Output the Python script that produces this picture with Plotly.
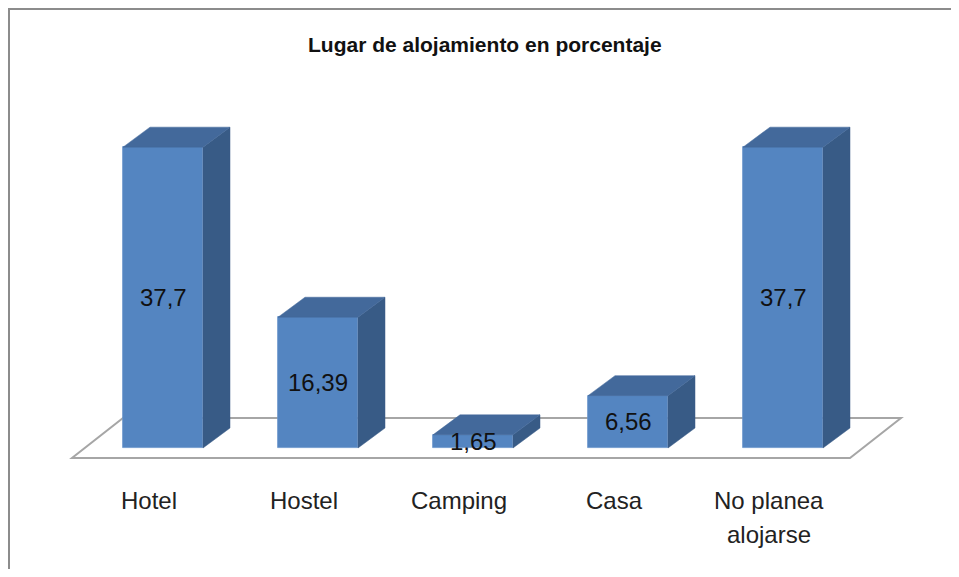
import plotly.graph_objects as go

# ---- data ----
categories = ["Hotel", "Hostel", "Camping", "Casa", "No planea\nalojarse"]
values = [37.7, 16.39, 1.65, 6.56, 37.7]
title_text = "Lugar de alojamiento en porcentaje"

# ---- geometry / style (pixel-based helpers) ----
OFF = 8                            # page body margin in the browser
W, H = 959 - 2 * OFF, 577 - 2 * OFF
x0_px, step_px = 163 - OFF, 155    # centre of first bar, spacing
base_px, px_per_unit = 448 - OFF, 7.98   # baseline pixel row, pixels per unit
bar_w = 80 / step_px
dx = 27 / step_px                  # depth offset (x units)
dy = 20 / px_per_unit              # depth offset (y units)

FRONT = "#5485C1"
TOP = "#43699B"
SIDE = "#385B86"

xr = [-x0_px / step_px, (W - x0_px) / step_px]
yr = [-(H - base_px) / px_per_unit, base_px / px_per_unit]

fig = go.Figure()

idx = list(range(len(values)))

# side and top faces (computed from the values)
for i, v in zip(idx, values):
    xl, xrt = i - bar_w / 2, i + bar_w / 2
    fig.add_trace(go.Scatter(
        x=[xrt, xrt + dx, xrt + dx, xrt, xrt],
        y=[0, dy, v + dy, v, 0],
        fill="toself", fillcolor=SIDE, mode="lines",
        line=dict(color=SIDE, width=0.5), hoverinfo="skip", showlegend=False))
    fig.add_trace(go.Scatter(
        x=[xl, xrt, xrt + dx, xl + dx, xl],
        y=[v, v, v + dy, v + dy, v],
        fill="toself", fillcolor=TOP, mode="lines",
        line=dict(color=TOP, width=0.5), hoverinfo="skip", showlegend=False))

# front faces
fig.add_trace(go.Bar(
    x=idx, y=values, width=bar_w,
    marker=dict(color=FRONT, line=dict(color="#6A96CC", width=0.8)),
    hoverinfo="skip", showlegend=False))

# value labels
for i, v in zip(idx, values):
    fig.add_annotation(
        x=i, y=v / 2, text=f"{v:g}".replace(".", ","), showarrow=False,
        font=dict(family="Liberation Sans", size=24, color="#111"),
        xanchor="center", yanchor="middle")

# category labels (along the front edge of the floor)
lab_shift = 14 / step_px
lab_y0 = (448 - 500) / px_per_unit
line_gap = 34 / px_per_unit
for i, c in zip(idx, categories):
    for k, line in enumerate(c.split("\n")):
        fig.add_annotation(
            x=i - lab_shift, y=lab_y0 - k * line_gap, text=line, showarrow=False,
            font=dict(family="Liberation Sans", size=24, color="#222"),
            xanchor="center", yanchor="middle")

# floor (parallelogram)
n = len(values)
fl_front_y = -10 / px_per_unit
fl_back_y = 30 / px_per_unit
fl_left = -91 / step_px
fl_right = (n - 1) + 67 / step_px
fl_dx = 51 / step_px
floor_path = (f"M {fl_left},{fl_front_y} L {fl_right},{fl_front_y} "
              f"L {fl_right + fl_dx},{fl_back_y} L {fl_left + fl_dx},{fl_back_y} Z")

fig.update_layout(
    width=W, height=H,
    margin=dict(l=0, r=0, t=0, b=0),
    paper_bgcolor="white", plot_bgcolor="white",
    xaxis=dict(range=xr, visible=False, fixedrange=True),
    yaxis=dict(range=yr, visible=False, fixedrange=True),
    bargap=0,
    shapes=[
        dict(type="path", path=floor_path, xref="x", yref="y", layer="below",
             line=dict(color="#A6A6A6", width=2), fillcolor="white"),
        dict(type="rect", xref="paper", yref="paper",
             x0=1 / W, x1=1.05, y0=-0.05, y1=1 - 1 / H,
             line=dict(color="#8C8C8C", width=2)),
    ],
    annotations=list(fig.layout.annotations) + [
        dict(xref="paper", yref="paper", x=(485 - OFF) / W, y=1 - (45 - OFF) / H,
             text=f"<b>{title_text}</b>", showarrow=False,
             font=dict(family="Liberation Sans", size=21, color="#111"),
             xanchor="center", yanchor="middle")
    ],
)

fig.write_html("out.html")
